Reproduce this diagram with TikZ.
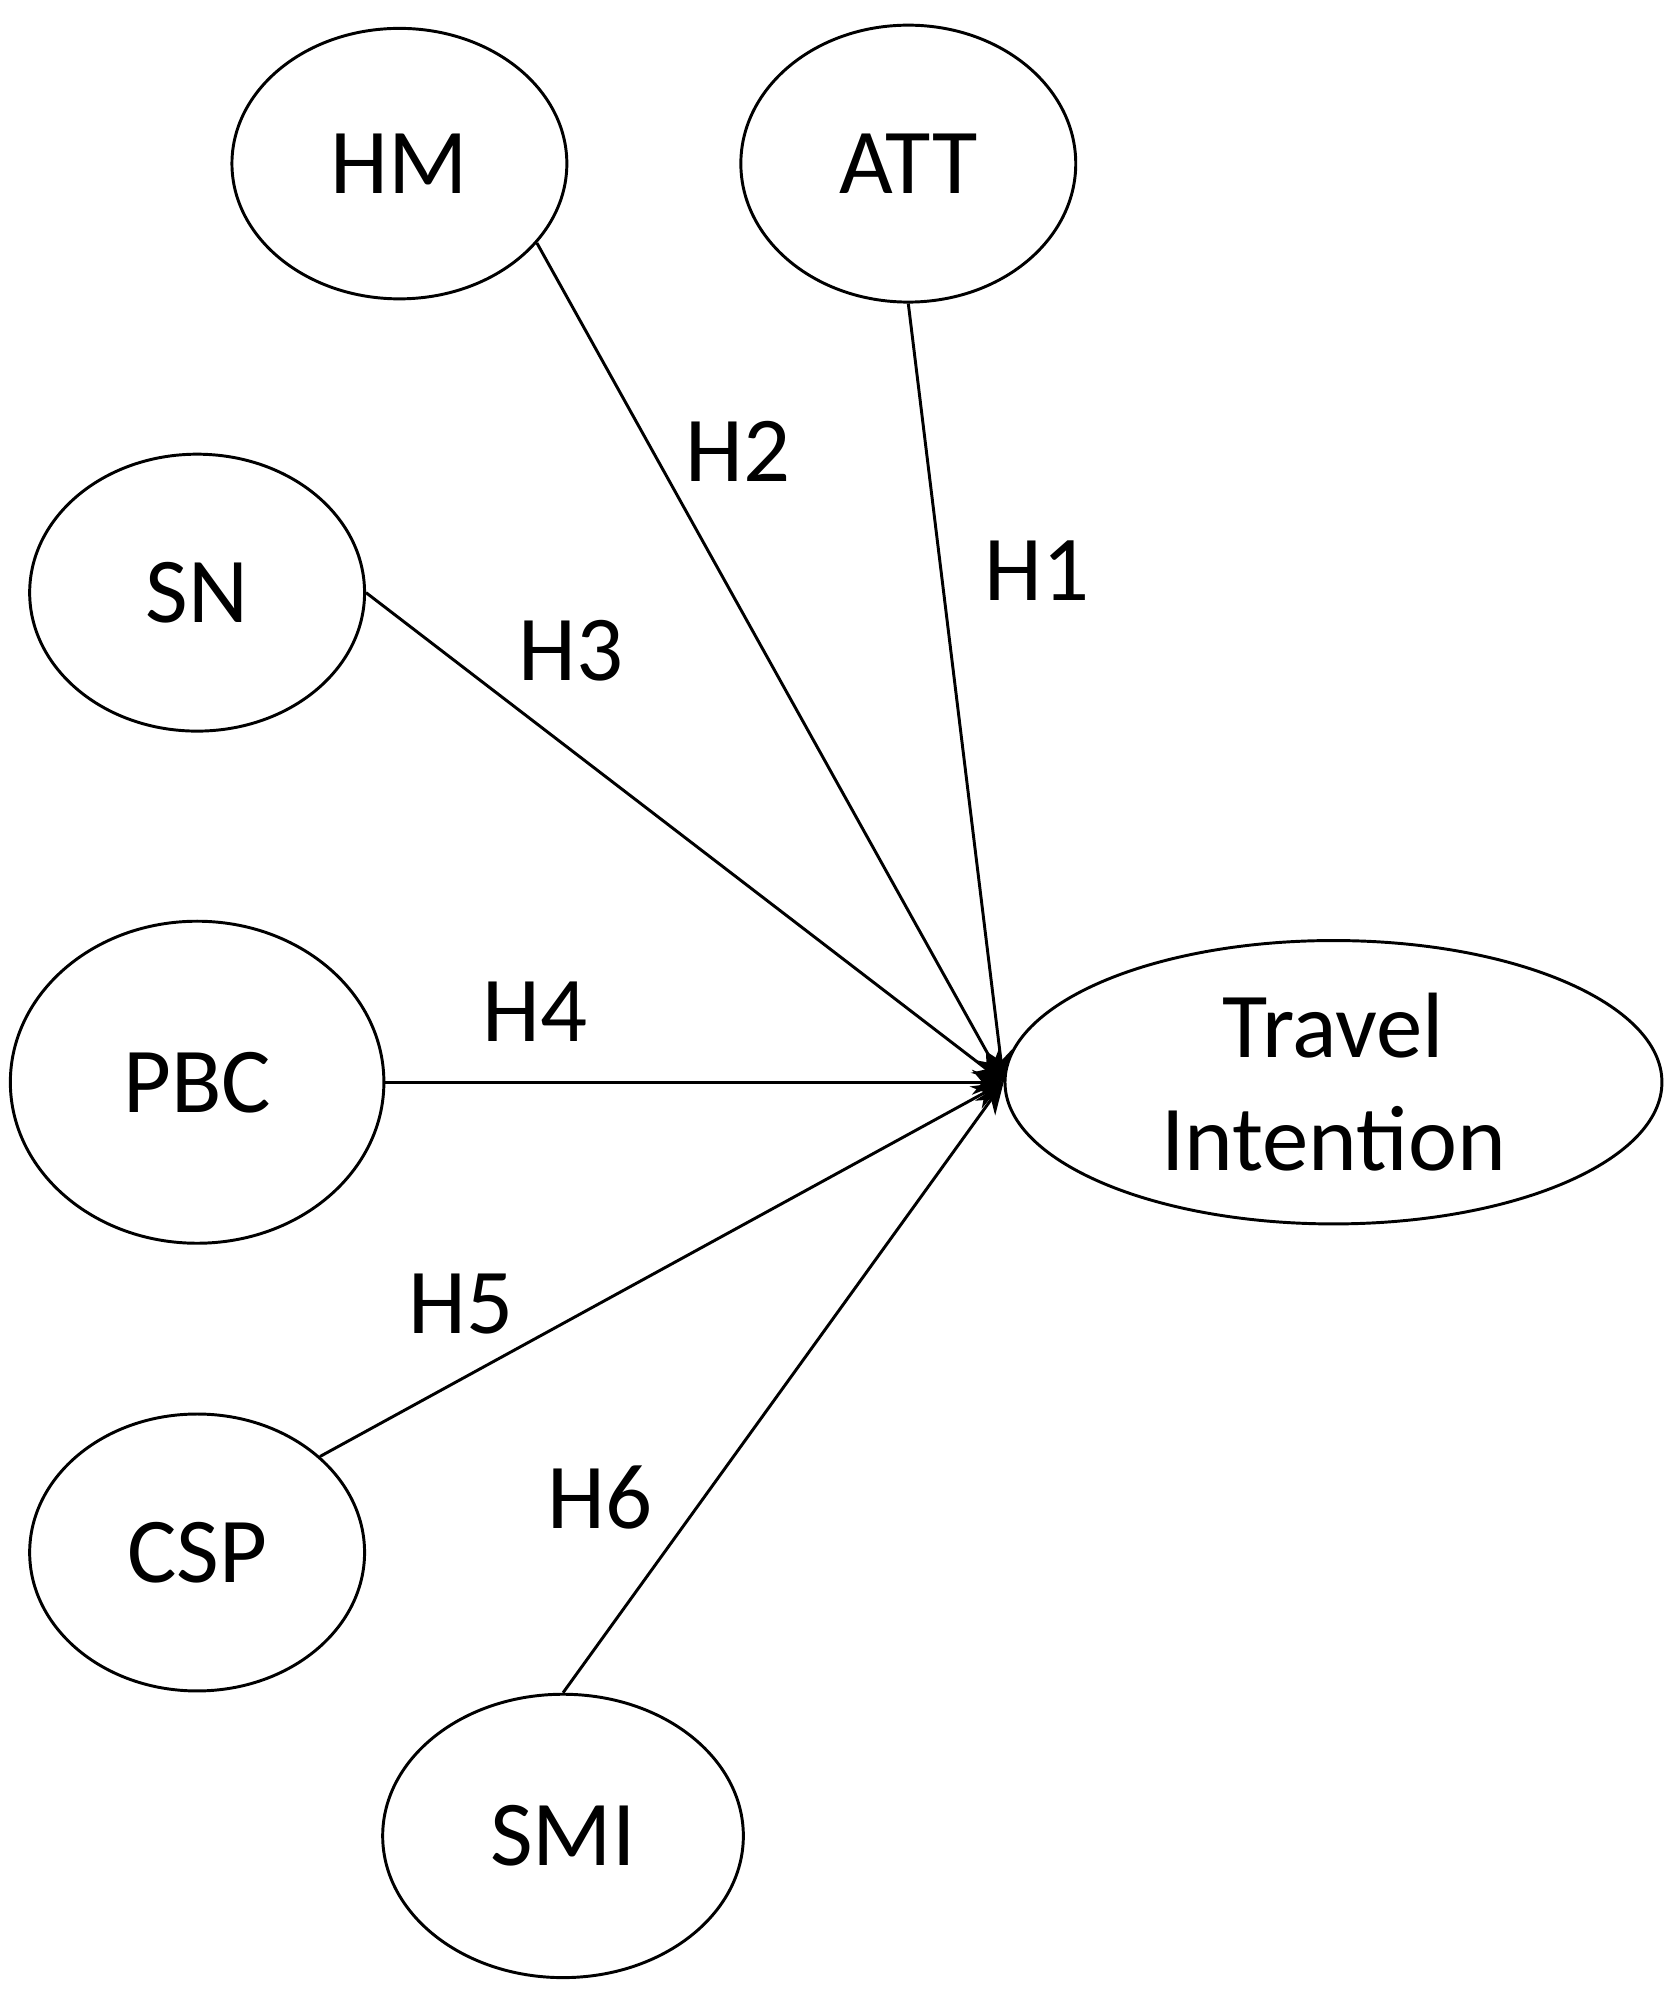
\documentclass[tikz,border=0pt]{standalone}
\usepackage{fontspec}
\setmainfont{Carlito}
\usetikzlibrary{shapes.geometric,arrows.meta}
\begin{document}
\begin{tikzpicture}[x=0.02cm,y=-0.02cm,
  el/.style={ellipse,draw,line width=1.3pt,inner sep=0pt,font=\fontsize{41}{50}\selectfont,align=center},
  ln/.style={line width=1.3pt,-{Stealth[length=14pt,width=11pt]}},
  lb/.style={font=\fontsize{41}{48}\selectfont}]
\useasboundingbox (0,0) rectangle (1300,1564);
\node[el,minimum width=5.2cm,minimum height=4.2cm] (HM) at (310,127) {HM};
\node[el,minimum width=5.2cm,minimum height=4.3cm] (ATT) at (705,127) {ATT};
\node[el,minimum width=5.2cm,minimum height=4.3cm] (SN) at (153,460) {SN};
\node[el,minimum width=5.8cm,minimum height=5.0cm] (PBC) at (153,840) {PBC};
\node[el,minimum width=5.2cm,minimum height=4.3cm] (CSP) at (153,1205) {CSP};
\node[el,minimum width=5.6cm,minimum height=4.4cm] (SMI) at (437,1425) {SMI};
\node[el,minimum width=10.2cm,minimum height=4.4cm] (TI) at (1035,840) {Travel\\Intention};
\coordinate (T) at (779,840);
\draw[ln] (ATT.south) -- (T);
\draw[ln] (HM.-30) -- (T);
\draw[ln] (SN.east) -- (T);
\draw[ln] (PBC.east) -- (T);
\draw[ln] (CSP.38) -- (T);
\draw[ln] (SMI.north) -- (T);
\node[lb] (h1) at (805,443) {H1};
\node[lb] (h2) at (573,350) {H2};
\node[lb] (h3) at (443,505) {H3};
\node[lb] (h4) at (415,785) {H4};
\node[lb] (h5) at (358,1012) {H5};
\node[lb] (h6) at (466,1162) {H6};
\end{tikzpicture}
\end{document}
